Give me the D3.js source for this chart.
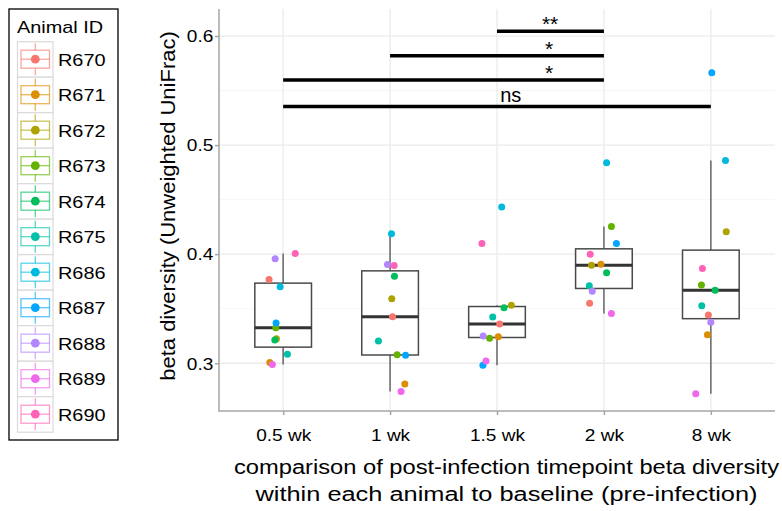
<!DOCTYPE html>
<html>
<head>
<meta charset="utf-8">
<script src="https://cdn.jsdelivr.net/npm/d3@7"></script>
<style>
  body { margin: 0; background: #fff; }
  svg { display: block; font-family: "Liberation Sans", Arial, sans-serif; }
</style>
</head>
<body>
<svg id="canvas" width="782" height="511"></svg>
<script>
// categories and groups
const timepoints = ["0.5 wk", "1 wk", "1.5 wk", "2 wk", "8 wk"];
const animals = ["R670", "R671", "R672", "R673", "R674", "R675", "R686", "R687", "R688", "R689", "R690"];
const animalColors = ["#F8766D", "#DB8E00", "#AEA200", "#64B200", "#00BD5C", "#00C1A7",
                      "#00BADE", "#00A6FF", "#B385FF", "#EF67EB", "#FF63B6"];

// beta diversity per animal (same order as animals), one array per timepoint
const beta05wk = [0.3767, 0.3007, 0.3224, 0.3325, 0.3212, 0.3083, 0.3702, 0.3368, 0.3957, 0.2988, 0.4006];
const beta1wk  = [0.3426, 0.2810, 0.3592, 0.3077, 0.3798, 0.3203, 0.4187, 0.3074, 0.3905, 0.2740, 0.3896];
const beta15wk = [0.3359, 0.3242, 0.3531, 0.3230, 0.3509, 0.3423, 0.4433, 0.2982, 0.3249, 0.3021, 0.4098];
const beta2wk  = [0.3549, 0.3908, 0.3899, 0.4254, 0.3830, 0.3711, 0.4838, 0.4098, 0.3660, 0.3457, 0.4000];
const beta8wk  = [0.3442, 0.3261, 0.4206, 0.3718, 0.3669, 0.3527, 0.4859, 0.5663, 0.3375, 0.2721, 0.3868];

// horizontal jitter, in category units
const jitter05wk = [-0.132, -0.125, -0.063, -0.069, -0.078, 0.040, -0.028, -0.066, -0.075, -0.101, 0.113];
const jitter1wk  = [0.023, 0.138, 0.016, 0.066, 0.041, -0.109, 0.013, 0.145, -0.024, 0.103, 0.038];
const jitter15wk = [0.025, 0.012, 0.134, -0.069, 0.066, -0.040, 0.044, -0.132, -0.129, -0.103, -0.141];
const jitter2wk  = [-0.134, -0.028, -0.116, 0.070, 0.025, -0.137, 0.025, 0.117, -0.109, 0.070, -0.128];
const jitter8wk  = [-0.023, -0.032, 0.144, -0.088, 0.040, -0.085, 0.137, 0.009, 0.000, -0.141, -0.079];

const betaByTime = [beta05wk, beta1wk, beta15wk, beta2wk, beta8wk];
const jitterByTime = [jitter05wk, jitter1wk, jitter15wk, jitter2wk, jitter8wk];

// significance comparisons
const sigFrom  = ["1.5 wk", "1 wk", "0.5 wk", "0.5 wk"];
const sigTo    = ["2 wk", "2 wk", "2 wk", "8 wk"];
const sigY     = [0.6043, 0.5819, 0.5598, 0.5353];
const sigLabel = ["**", "*", "*", "ns"];
const sigLabelPos = [2.42, 2.45, 2.45, 2.03];

const yTicks = [0.3, 0.4, 0.5, 0.6];
const yMinor = [0.35, 0.45, 0.55];

const xTitle = ["comparison of post-infection timepoint beta diversity",
                "within each animal to baseline (pre-infection)"];
const xTitleWidth = [545, 502];
const yTitle = "beta diversity (Unweighted UniFrac)";
const legendTitle = "Animal ID";

// layout
const panel = { left: 219, right: 775, top: 9, bottom: 411 };
const svg = d3.select("#canvas");

let x = d3.scalePoint().domain(timepoints).range([panel.left, panel.right]).padding(0.6);
let step = x.step();
let y = d3.scaleLinear().domain([0.2562, 0.6248]).range([panel.bottom, panel.top]);

// grid
let grid = svg.append("g");
grid.selectAll(".minor").data(yMinor).enter().append("line")
    .attr("x1", panel.left).attr("x2", panel.right)
    .attr("y1", d => y(d)).attr("y2", d => y(d))
    .attr("stroke", "#f4f4f4").attr("stroke-width", 0.8);
grid.selectAll(".major").data(yTicks).enter().append("line")
    .attr("x1", panel.left).attr("x2", panel.right)
    .attr("y1", d => y(d)).attr("y2", d => y(d))
    .attr("stroke", "#ebebeb").attr("stroke-width", 1.3);
grid.selectAll(".vert").data(timepoints).enter().append("line")
    .attr("x1", d => x(d)).attr("x2", d => x(d))
    .attr("y1", panel.top).attr("y2", panel.bottom)
    .attr("stroke", "#ebebeb").attr("stroke-width", 1.3);

// boxplot stats
let stats = timepoints.map((t, i) => {
    let v = betaByTime[i].slice().sort(d3.ascending);
    let q1 = d3.quantile(v, 0.25), med = d3.quantile(v, 0.5), q3 = d3.quantile(v, 0.75);
    let iqr = q3 - q1;
    let lo = d3.min(v.filter(d => d >= q1 - 1.5 * iqr));
    let hi = d3.max(v.filter(d => d <= q3 + 1.5 * iqr));
    return { t: t, q1: q1, med: med, q3: q3, lo: lo, hi: hi };
});

let halfBox = step * 0.265;
let boxes = svg.append("g");
stats.forEach(s => {
    let cx = x(s.t);
    boxes.append("line").attr("x1", cx).attr("x2", cx).attr("y1", y(s.q3)).attr("y2", y(s.hi))
        .attr("stroke", "#666").attr("stroke-width", 1.5);
    boxes.append("line").attr("x1", cx).attr("x2", cx).attr("y1", y(s.q1)).attr("y2", y(s.lo))
        .attr("stroke", "#666").attr("stroke-width", 1.5);
    boxes.append("rect")
        .attr("x", cx - halfBox).attr("width", halfBox * 2)
        .attr("y", y(s.q3)).attr("height", y(s.q1) - y(s.q3))
        .attr("fill", "#fff").attr("stroke", "#4a4a4a").attr("stroke-width", 1.5);
    boxes.append("line").attr("x1", cx - halfBox).attr("x2", cx + halfBox)
        .attr("y1", y(s.med)).attr("y2", y(s.med))
        .attr("stroke", "#333").attr("stroke-width", 3);
});

// jittered points
let points = [];
timepoints.forEach((t, i) => {
    animals.forEach((a, j) => {
        points.push({ t: t, animal: a, color: animalColors[j], value: betaByTime[i][j], jit: jitterByTime[i][j] });
    });
});
svg.append("g").selectAll("circle")
    .data(points)
    .enter()
    .append("circle")
    .attr("cx", d => x(d.t) + d.jit * step)
    .attr("cy", d => y(d.value))
    .attr("r", 3.5)
    .attr("fill", d => d.color);

// significance bars
let sig = svg.append("g");
sigLabel.forEach((lab, i) => {
    sig.append("line")
        .attr("x1", x(sigFrom[i])).attr("x2", x(sigTo[i]))
        .attr("y1", y(sigY[i])).attr("y2", y(sigY[i]))
        .attr("stroke", "#000").attr("stroke-width", 3.5);
    let lx = x(timepoints[0]) + sigLabelPos[i] * step;
    sig.append("text")
        .attr("x", lx)
        .attr("y", y(sigY[i]) - (lab === "ns" ? 5 : 0))
        .attr("font-size", lab === "ns" ? 20 : 21)
        .attr("fill", "#000")
        .text(lab);
});

// axes
let yAxis = svg.append("g")
    .attr("transform", `translate(${panel.left},0)`)
    .call(d3.axisLeft(y).tickValues(yTicks).tickSize(4).tickFormat(d3.format(".1f")));
let xAxis = svg.append("g")
    .attr("transform", `translate(0,${panel.bottom})`)
    .call(d3.axisBottom(x).tickSize(4));

[yAxis, xAxis].forEach(ax => {
    ax.select(".domain").remove();
    ax.selectAll(".tick line").attr("stroke", "#a6a6a6").attr("stroke-width", 1.5);
    ax.selectAll(".tick text").attr("fill", "#000").attr("font-size", 16)
        .attr("font-family", "Liberation Sans, Arial, sans-serif");
});
yAxis.selectAll(".tick text").attr("x", 0).attr("dy", "0.36em")
    .attr("transform", "translate(-5.7,0) scale(1.19,1)");
xAxis.selectAll(".tick text").attr("y", 30).attr("dy", 0)
    .attr("transform", "scale(1.19,1)");

svg.append("line").attr("x1", panel.left).attr("x2", panel.left)
    .attr("y1", panel.top).attr("y2", panel.bottom + 0.75)
    .attr("stroke", "#a6a6a6").attr("stroke-width", 1.5);
svg.append("line").attr("x1", panel.left).attr("x2", panel.right)
    .attr("y1", panel.bottom).attr("y2", panel.bottom)
    .attr("stroke", "#a6a6a6").attr("stroke-width", 1.5);

// axis titles
svg.selectAll(".xtitle").data(xTitle).enter().append("text")
    .attr("text-anchor", "middle")
    .attr("font-size", 19.5)
    .attr("x", 506.5)
    .attr("y", (d, i) => 474 + i * 27)
    .attr("textLength", (d, i) => xTitleWidth[i])
    .attr("lengthAdjust", "spacingAndGlyphs")
    .text(d => d);

svg.append("text")
    .attr("text-anchor", "middle")
    .attr("font-size", 20)
    .attr("transform", "translate(175,206) rotate(-90) scale(1.1,1)")
    .text(yTitle);

// legend
let legend = svg.append("g");
legend.append("rect").attr("x", 9).attr("y", 9).attr("width", 109).attr("height", 431)
    .attr("fill", "#fff").attr("stroke", "#000").attr("stroke-width", 1.3);
legend.append("text").attr("font-size", 17)
    .attr("transform", "translate(17,33) scale(1.17,1)")
    .text(legendTitle);

let keys = legend.selectAll(".key").data(animals).enter().append("g")
    .attr("transform", (d, i) => `translate(0,${59.2 + i * 35.5})`);
keys.append("rect").attr("x", 17.5).attr("y", -17.5).attr("width", 35.5).attr("height", 35.5)
    .attr("fill", "#fff").attr("stroke", "#dadada").attr("stroke-width", 1.2);
keys.append("line").attr("x1", 35.3).attr("x2", 35.3).attr("y1", -16).attr("y2", 16)
    .attr("stroke", (d, i) => animalColors[i]).attr("stroke-opacity", 0.65).attr("stroke-width", 1.3);
keys.append("rect").attr("x", 21).attr("y", -9).attr("width", 28.5).attr("height", 18)
    .attr("fill", "#fff")
    .attr("stroke", (d, i) => animalColors[i]).attr("stroke-opacity", 0.65).attr("stroke-width", 1.3);
keys.append("line").attr("x1", 21).attr("x2", 49.5).attr("y1", 0).attr("y2", 0)
    .attr("stroke", (d, i) => animalColors[i]).attr("stroke-opacity", 0.65).attr("stroke-width", 1.3);
keys.append("circle").attr("cx", 35.3).attr("cy", 0).attr("r", 4.4)
    .attr("fill", (d, i) => animalColors[i]);
keys.append("text").attr("font-size", 17)
    .attr("transform", "translate(58,6.5) scale(1.17,1)")
    .text(d => d);
</script>
</body>
</html>
